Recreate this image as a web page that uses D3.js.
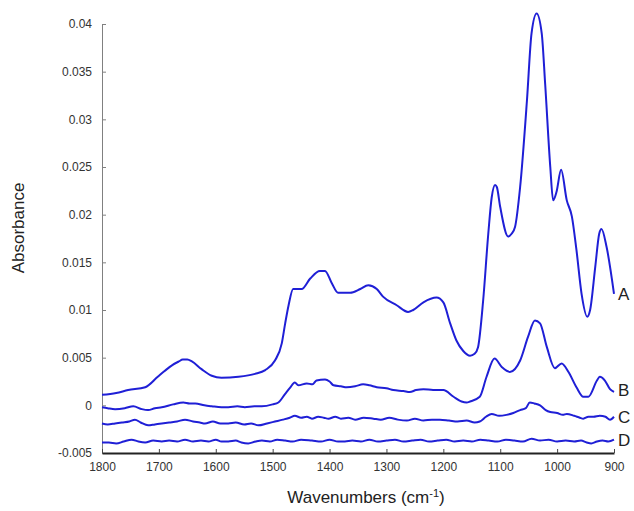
<!DOCTYPE html>
<html>
<head>
<meta charset="utf-8">
<script src="https://cdnjs.cloudflare.com/ajax/libs/d3/7.8.5/d3.min.js"></script>
<style>
	body { margin: 0; background: #fff; }
	svg { font-family: "Liberation Sans", Arial, sans-serif; }
</style>
</head>
<body>
<svg id="chart" width="634" height="511"></svg>
<script>
// wavenumber (cm-1), absorbance
const seriesA = [
	[1800, 0.0011], [1775, 0.0013], [1754, 0.0016], [1724, 0.0019], [1702, 0.0030],
	[1690, 0.0036], [1677, 0.0042], [1665, 0.0046], [1658, 0.0048], [1650, 0.0048],
	[1642, 0.0046], [1625, 0.0038], [1607, 0.0031], [1590, 0.0029], [1560, 0.0030],
	[1531, 0.0033], [1513, 0.0037], [1496, 0.0047], [1484, 0.0065], [1478, 0.0086],
	[1472, 0.0105], [1464, 0.0122], [1449, 0.0122], [1434, 0.0133], [1417, 0.0141],
	[1408, 0.0141], [1396, 0.0128], [1385, 0.0118], [1364, 0.0118], [1346, 0.0122],
	[1332, 0.0126], [1317, 0.0122], [1306, 0.0114], [1282, 0.0105], [1262, 0.0098],
	[1253, 0.0100], [1235, 0.0108], [1212, 0.0113], [1200, 0.0108], [1188, 0.0086],
	[1177, 0.0068], [1165, 0.0057], [1153, 0.0052], [1145, 0.0054], [1139, 0.0061],
	[1130, 0.0110], [1121, 0.0180], [1115, 0.0218], [1109, 0.0231], [1106, 0.0229],
	[1100, 0.0208], [1086, 0.0177], [1080, 0.0180], [1074, 0.0187], [1065, 0.0229],
	[1053, 0.0320], [1045, 0.0390], [1036, 0.0411], [1027, 0.0390], [1021, 0.0337],
	[1012, 0.0250], [1007, 0.0215], [1001, 0.0224], [993, 0.0247], [983, 0.0215],
	[974, 0.0198], [966, 0.0163], [957, 0.0117], [947, 0.0093], [942, 0.0100],
	[933, 0.0145], [926, 0.0180], [922, 0.0185], [913, 0.0166], [900, 0.0117]
];
const seriesB = [
	[1800, -0.0002], [1790, -0.0003], [1777, -0.0004], [1760, -0.0003], [1745, -0.0001],
	[1730, -0.0004], [1719, -0.0005], [1707, -0.0003], [1695, -0.0002], [1675, 0.0001],
	[1657, 0.0003], [1646, 0.0002], [1636, 0.0002], [1620, 0.0000], [1607, -0.0001],
	[1590, -0.0002], [1578, -0.0002], [1562, -0.0001], [1549, -0.0002], [1532, -0.0001],
	[1519, -0.0001], [1500, 0.0001], [1490, 0.0003], [1478, 0.0012], [1470, 0.0018],
	[1461, 0.0024], [1455, 0.0021], [1440, 0.0023], [1430, 0.0022], [1423, 0.0026],
	[1408, 0.0027], [1400, 0.0025], [1393, 0.0021], [1380, 0.0020], [1370, 0.0019],
	[1355, 0.0020], [1341, 0.0022], [1330, 0.0021], [1317, 0.0019], [1300, 0.0018],
	[1288, 0.0016], [1270, 0.0015], [1259, 0.0014], [1248, 0.0016], [1235, 0.0017],
	[1218, 0.0016], [1200, 0.0016], [1182, 0.0009], [1168, 0.0004], [1159, 0.0003],
	[1153, 0.0004], [1136, 0.0009], [1124, 0.0030], [1110, 0.0049], [1097, 0.0040],
	[1083, 0.0035], [1065, 0.0047], [1051, 0.0072], [1039, 0.0089], [1030, 0.0086],
	[1018, 0.0061], [1004, 0.0039], [992, 0.0044], [980, 0.0035], [966, 0.0019],
	[954, 0.0009], [945, 0.0009], [930, 0.0026], [925, 0.0030], [916, 0.0026],
	[907, 0.0017], [900, 0.0014]
];
const seriesC = [
	[1800, -0.0019], [1790, -0.0020], [1777, -0.0019], [1765, -0.0018], [1752, -0.0017],
	[1742, -0.0015], [1732, -0.0018], [1719, -0.0021], [1707, -0.0020], [1695, -0.0019],
	[1682, -0.0018], [1668, -0.0017], [1654, -0.0015], [1640, -0.0017], [1628, -0.0018],
	[1619, -0.0019], [1605, -0.0017], [1592, -0.0019], [1578, -0.0019], [1565, -0.0018],
	[1550, -0.0020], [1538, -0.0019], [1525, -0.0021], [1510, -0.0019], [1496, -0.0017],
	[1482, -0.0015], [1470, -0.0013], [1461, -0.0011], [1450, -0.0013], [1440, -0.0012],
	[1431, -0.0014], [1420, -0.0012], [1410, -0.0013], [1402, -0.0014], [1390, -0.0012],
	[1380, -0.0014], [1367, -0.0013], [1355, -0.0015], [1340, -0.0013], [1323, -0.0014],
	[1310, -0.0015], [1295, -0.0013], [1280, -0.0015], [1264, -0.0016], [1250, -0.0014],
	[1235, -0.0016], [1220, -0.0015], [1206, -0.0015], [1190, -0.0016], [1175, -0.0017],
	[1159, -0.0016], [1145, -0.0018], [1136, -0.0017], [1125, -0.0012], [1115, -0.0009],
	[1102, -0.0011], [1089, -0.0010], [1077, -0.0008], [1065, -0.0005], [1055, -0.0003],
	[1048, 0.0003], [1040, 0.0002], [1030, 0.0000], [1020, -0.0005], [1012, -0.0007],
	[1000, -0.0008], [990, -0.0010], [983, -0.0009], [970, -0.0011], [960, -0.0013],
	[954, -0.0014], [945, -0.0012], [936, -0.0012], [925, -0.0011], [915, -0.0012],
	[907, -0.0015], [900, -0.0012]
];
const seriesD = [
	[1800, -0.0039], [1788, -0.0039], [1775, -0.0040], [1762, -0.0038], [1748, -0.0036],
	[1736, -0.0038], [1724, -0.0039], [1710, -0.0037], [1695, -0.0038], [1682, -0.0037],
	[1668, -0.0038], [1654, -0.0036], [1640, -0.0038], [1626, -0.0037], [1613, -0.0038],
	[1600, -0.0036], [1590, -0.0038], [1578, -0.0038], [1565, -0.0037], [1555, -0.0039],
	[1543, -0.0040], [1530, -0.0038], [1519, -0.0037], [1505, -0.0038], [1492, -0.0036],
	[1478, -0.0037], [1465, -0.0038], [1450, -0.0036], [1431, -0.0037], [1415, -0.0038],
	[1400, -0.0036], [1385, -0.0038], [1373, -0.0038], [1360, -0.0037], [1345, -0.0038],
	[1330, -0.0036], [1315, -0.0038], [1300, -0.0037], [1285, -0.0036], [1270, -0.0038],
	[1255, -0.0037], [1240, -0.0036], [1225, -0.0038], [1210, -0.0037], [1195, -0.0036],
	[1180, -0.0038], [1165, -0.0037], [1150, -0.0038], [1135, -0.0036], [1120, -0.0037],
	[1105, -0.0038], [1090, -0.0036], [1075, -0.0037], [1060, -0.0038], [1045, -0.0035],
	[1030, -0.0037], [1015, -0.0036], [1000, -0.0038], [985, -0.0037], [970, -0.0038],
	[958, -0.0037], [948, -0.0039], [940, -0.0040], [930, -0.0038], [920, -0.0037],
	[910, -0.0038], [900, -0.0036]
];

const seriesNames = ["A", "B", "C", "D"];
const xTicks = [1800, 1700, 1600, 1500, 1400, 1300, 1200, 1100, 1000, 900];
const yTicks = [-0.005, 0, 0.005, 0.01, 0.015, 0.02, 0.025, 0.03, 0.035, 0.04];

let svg = d3.select("#chart");

let x = d3.scaleLinear().domain([1800, 900]).range([102, 614]);
let y = d3.scaleLinear().domain([-0.005, 0.04]).range([453, 24]);

/* ---------------- axes ---------------- */

let yAxis = svg.append("g")
	.attr("transform", "translate(102,0)")
	.call(d3.axisLeft(y).tickValues(yTicks).tickSizeInner(-4).tickSizeOuter(0).tickPadding(10)
		.tickFormat(d => d == 0 ? "0" : String(+d.toFixed(3))));
yAxis.select(".domain").attr("stroke", "#808080");
yAxis.selectAll(".tick line").attr("stroke", "#808080");
yAxis.selectAll(".tick text").attr("fill", "#333").attr("font-size", 12);

let xAxis = svg.append("g")
	.attr("transform", "translate(0,453)")
	.call(d3.axisBottom(x).tickValues(xTicks).tickSizeInner(-4).tickSizeOuter(0).tickPadding(9)
		.tickFormat(d => String(d)));
xAxis.select(".domain").attr("stroke", "#222").attr("stroke-width", 1.8);
xAxis.selectAll(".tick line").attr("stroke", "#444");
xAxis.selectAll(".tick text").attr("fill", "#333").attr("font-size", 12);

svg.append("text")
	.attr("transform", "translate(24,228) rotate(-90)")
	.attr("text-anchor", "middle")
	.attr("font-size", 17)
	.attr("fill", "#222")
	.text("Absorbance");

let xTitle = svg.append("text")
	.attr("x", 366)
	.attr("y", 503)
	.attr("text-anchor", "middle")
	.attr("font-size", 17)
	.attr("fill", "#222");
xTitle.append("tspan").text("Wavenumbers (cm");
xTitle.append("tspan").attr("font-size", 11).attr("dy", -6).text("-1");
xTitle.append("tspan").attr("dy", 6).text(")");

/* ---------------- spectra ---------------- */

let line = d3.line()
	.x(d => x(d[0]))
	.y(d => y(d[1]))
	.curve(d3.curveMonotoneX);

let allSeries = [seriesA, seriesB, seriesC, seriesD];

svg.selectAll(".spectrum")
	.data(allSeries)
	.enter().append("path")
	.attr("class", "spectrum")
	.attr("d", line)
	.attr("fill", "none")
	.attr("stroke", "#1f1fd6")
	.attr("stroke-width", 2)
	.attr("stroke-linejoin", "round");

svg.selectAll(".seriesLabel")
	.data(allSeries)
	.enter().append("text")
	.attr("class", "seriesLabel")
	.attr("x", 618)
	.attr("y", (d, i) => y(d[d.length - 1][1]) + (i == 0 ? 6 : i == 1 ? 4 : 6))
	.attr("font-size", 17)
	.attr("fill", "#222")
	.text((d, i) => seriesNames[i]);
</script>
</body>
</html>
